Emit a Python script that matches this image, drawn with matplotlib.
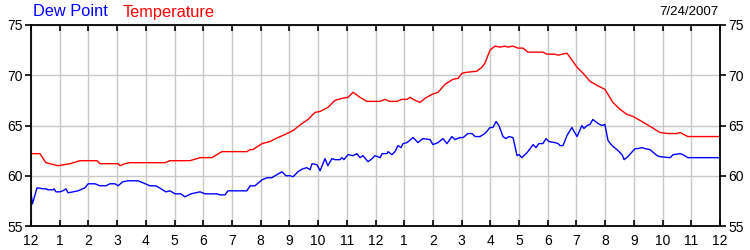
#!/usr/bin/env python3

import matplotlib
matplotlib.use('Agg')
import matplotlib.pyplot as plt

plt.rcParams['font.family'] = ['Liberation Sans', 'DejaVu Sans']

# hours since midnight, 7/24/2007
temp_hours = [0.00, 0.31, 0.52, 0.94, 1.36, 1.71, 2.30, 2.40, 3.03, 3.10, 3.27, 3.45,
              4.67, 4.84, 5.54, 5.89, 6.30, 6.65, 7.52, 7.63, 7.73, 8.05, 8.32, 8.60,
              8.92, 9.13, 9.44, 9.65, 9.89, 10.07, 10.34, 10.59, 10.83, 11.04, 11.22,
              11.46, 11.70, 12.16, 12.33, 12.50, 12.75, 12.92, 13.10, 13.20, 13.38,
              13.55, 13.72, 13.97, 14.18, 14.42, 14.70, 14.88, 15.01, 15.19, 15.53,
              15.71, 15.81, 15.99, 16.16, 16.34, 16.51, 16.61, 16.79, 16.96, 17.14,
              17.31, 17.83, 17.97, 18.25, 18.36, 18.67, 19.02, 19.23, 19.47, 19.71,
              19.99, 20.27, 20.52, 20.76, 20.97, 21.28, 21.63, 21.91, 22.19, 22.50,
              22.61, 22.88, 23.02, 24.00]
temperature = [62.2, 62.2, 61.3, 61.0, 61.2, 61.5, 61.5, 61.2, 61.2, 61.0, 61.2, 61.3,
               61.3, 61.5, 61.5, 61.8, 61.8, 62.4, 62.4, 62.6, 62.6, 63.2, 63.4, 63.8,
               64.2, 64.5, 65.2, 65.6, 66.3, 66.4, 66.8, 67.5, 67.7, 67.8, 68.3,
               67.8, 67.4, 67.4, 67.6, 67.4, 67.4, 67.6, 67.6, 67.8, 67.5,
               67.3, 67.7, 68.1, 68.3, 69.1, 69.6, 69.7, 70.2, 70.3, 70.4,
               70.8, 71.2, 72.5, 72.9, 72.8, 72.9, 72.8, 72.9, 72.7, 72.7,
               72.3, 72.3, 72.1, 72.1, 72.0, 72.2, 70.8, 70.2, 69.4, 69.0,
               68.6, 67.3, 66.6, 66.1, 65.9, 65.4, 64.8, 64.3, 64.2, 64.2,
               64.3, 63.9, 63.9, 63.9]

dew_hours = [0.00, 0.05, 0.21, 0.42, 0.52, 0.59, 0.77, 0.80, 0.87, 1.01, 1.11, 1.22,
             1.29, 1.46, 1.64, 1.88, 1.99, 2.23, 2.40, 2.61, 2.75, 2.93, 3.03, 3.20,
             3.38, 3.73, 3.90, 4.14, 4.35, 4.53, 4.70, 4.84, 5.02, 5.22, 5.36, 5.57,
             5.89, 6.06, 6.30, 6.48, 6.58, 6.76, 6.86, 7.52, 7.63, 7.80, 8.05, 8.22,
             8.39, 8.50, 8.74, 8.88, 9.02, 9.13, 9.30, 9.47, 9.61, 9.72, 9.79, 9.96,
             10.07, 10.24, 10.34, 10.48, 10.59, 10.76, 10.83, 10.90, 11.04, 11.22,
             11.35, 11.46, 11.56, 11.74, 11.88, 11.98, 12.16, 12.23, 12.40, 12.44,
             12.57, 12.68, 12.78, 12.89, 12.96, 13.10, 13.31, 13.48, 13.65, 13.90,
             14.00, 14.18, 14.35, 14.49, 14.66, 14.77, 14.94, 15.05, 15.22, 15.36,
             15.47, 15.64, 15.81, 15.99, 16.09, 16.20, 16.30, 16.44, 16.54, 16.65,
             16.79, 16.93, 17.00, 17.10, 17.28, 17.49, 17.59, 17.69, 17.83, 17.94,
             18.04, 18.25, 18.36, 18.43, 18.53, 18.67, 18.84, 19.02, 19.19, 19.26,
             19.37, 19.47, 19.57, 19.75, 19.89, 19.99, 20.10, 20.24, 20.41, 20.59,
             20.66, 20.79, 21.04, 21.14, 21.28, 21.39, 21.56, 21.81, 21.91, 22.26,
             22.37, 22.61, 22.71, 22.88, 24.00]
dew_point = [58.3, 57.2, 58.8, 58.7, 58.7, 58.6, 58.6, 58.7, 58.4, 58.4, 58.5, 58.7,
             58.3, 58.4, 58.5, 58.8, 59.2, 59.2, 59.0, 59.0, 59.2, 59.2, 59.0, 59.4,
             59.5, 59.5, 59.3, 59.0, 59.0, 58.7, 58.4, 58.5, 58.2, 58.2, 57.9, 58.2,
             58.4, 58.2, 58.2, 58.2, 58.1, 58.1, 58.5, 58.5, 59.0, 59.0, 59.6, 59.8,
             59.8, 60.0, 60.4, 60.0, 60.0, 59.9, 60.4, 60.7, 60.8, 60.6, 61.2, 61.1,
             60.5, 61.7, 61.0, 61.7, 61.6, 61.6, 61.8, 61.6, 62.1, 62.0,
             62.2, 61.8, 62.0, 61.4, 61.7, 62.0, 61.8, 62.2, 62.2, 62.4,
             62.1, 62.4, 63.0, 62.8, 63.2, 63.3, 63.8, 63.3, 63.7, 63.6,
             63.1, 63.3, 63.7, 63.2, 63.9, 63.6, 63.8, 63.8, 64.2, 64.2,
             63.9, 63.9, 64.2, 64.8, 64.8, 65.4, 65.0, 63.9, 63.7, 63.9,
             63.8, 62.0, 62.1, 61.8, 62.3, 63.1, 62.8, 63.2, 63.2, 63.7,
             63.4, 63.3, 63.2, 63.0, 63.0, 64.0, 64.8, 63.9, 65.0, 64.7,
             65.0, 65.1, 65.6, 65.2, 65.0, 65.1, 63.5, 63.0, 62.6, 62.1,
             61.6, 61.9, 62.7, 62.7, 62.8, 62.7, 62.6, 62.0, 61.9, 61.8,
             62.1, 62.2, 62.1, 61.8, 61.8]

hour_ticks = list(range(25))
hour_labels = ['12', '1', '2', '3', '4', '5', '6', '7', '8', '9', '10', '11',
               '12', '1', '2', '3', '4', '5', '6', '7', '8', '9', '10', '11', '12']
y_ticks = [55, 60, 65, 70, 75]

fig = plt.figure(figsize=(7.5, 2.5), dpi=100)
ax = fig.add_axes([31 / 750, 24 / 250, 689 / 750, 201 / 250])

ax.plot(dew_hours, dew_point, color='#0000ff', linewidth=1.0)
ax.plot(temp_hours, temperature, color='#ff0000', linewidth=1.0)

ax.set_xlim(0, 24)
ax.set_ylim(55, 75)
ax.set_xticks(hour_ticks)
ax.set_xticklabels(hour_labels)
ax.set_yticks(y_ticks)
ax.grid(True, color='#c8c8c8', linewidth=1.0)
ax.set_axisbelow(True)

for s in ax.spines.values():
    s.set_linewidth(1.3)
    s.set_color('black')

ax.tick_params(axis='x', direction='in', top=True, length=4, width=1.2,
               labelsize=10, pad=6)
ax.tick_params(axis='y', direction='out', right=True, labelright=True,
               length=4, width=1.2, labelsize=10, pad=2)

fig.text(33 / 750, 1 - 12 / 250, 'Dew Point', color='#0000ff', fontsize=11.8,
         ha='left', va='center')
fig.text(123 / 750, 1 - 12 / 250, 'Temperature', color='#ff0000', fontsize=11.8,
         ha='left', va='center')
fig.text(718 / 750, 1 - 12 / 250, '7/24/2007', color='black', fontsize=9.6,
         ha='right', va='center')

fig.savefig('out.png', dpi=100)
